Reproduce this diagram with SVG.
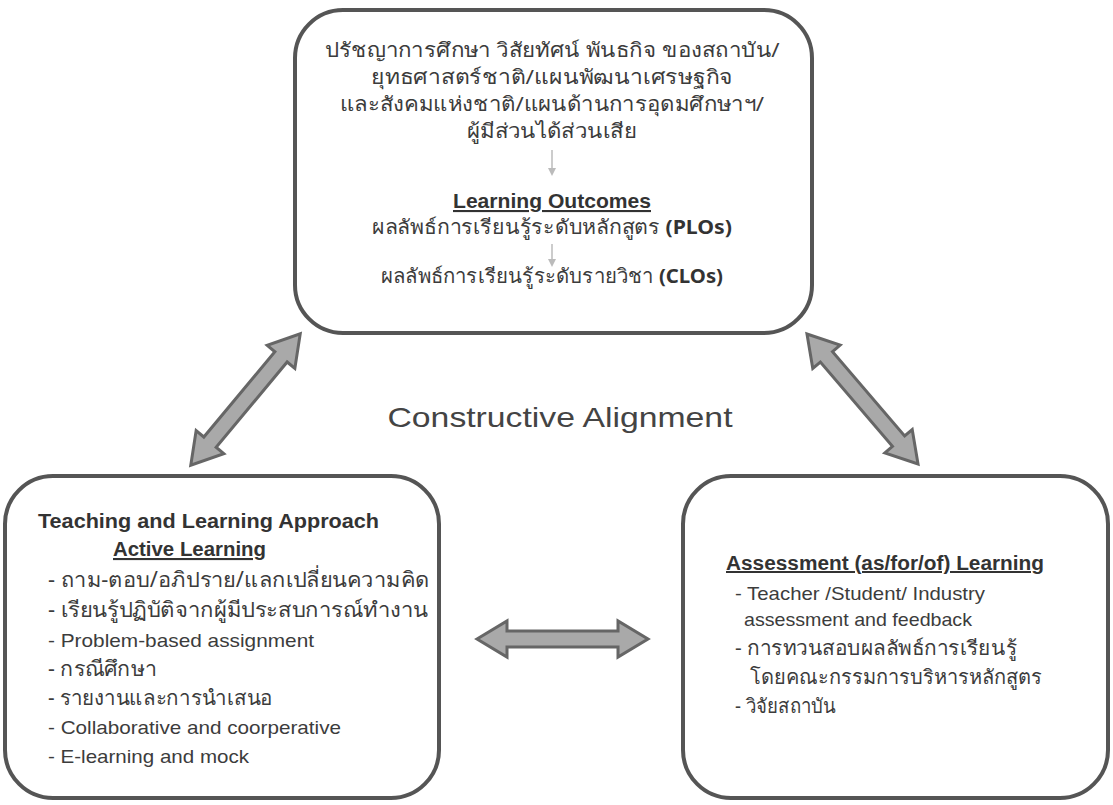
<svg xmlns="http://www.w3.org/2000/svg" width="1113" height="805" viewBox="0 0 1113 805">
<style>
.box{fill:#fff;stroke:#555;stroke-width:4}
.t{font-family:"Liberation Sans","Noto Sans",sans-serif;font-size:19px;fill:#3c3c3c}
.th{font-family:"Noto Sans","DejaVu Sans","Liberation Sans",sans-serif;font-size:20px;fill:#3c3c3c}
.b{font-weight:bold;fill:#333}
.c{text-anchor:middle}
.big{fill:#a9a9a9;stroke:#666;stroke-width:3;stroke-linejoin:miter}
.sm{stroke:#bbb;stroke-width:1.5;fill:none}
</style>
<defs>
<polygon id="dbl" points="-85.5,0 -55.5,-18 -55.5,-8 55.5,-8 55.5,-18 85.5,0 55.5,18 55.5,8 -55.5,8 -55.5,18"/>
<marker id="ah" markerWidth="8" markerHeight="8" refX="4" refY="4" orient="auto" markerUnits="userSpaceOnUse"><path d="M0,0 L8,4 L0,8 Z" fill="#bbb"/></marker>
</defs>
<rect width="1113" height="805" fill="#fff"/>

<g id="top">
<rect class="box" x="295" y="10" width="517" height="323" rx="48"/>
<text class="th c" x="552" y="57" textLength="455" lengthAdjust="spacingAndGlyphs">ปรัชญาการศึกษา วิสัยทัศน์ พันธกิจ ของสถาบัน/</text>
<text class="th c" x="552" y="84" textLength="362" lengthAdjust="spacingAndGlyphs">ยุทธศาสตร์ชาติ/แผนพัฒนาเศรษฐกิจ</text>
<text class="th c" x="552" y="111" textLength="424" lengthAdjust="spacingAndGlyphs">และสังคมแห่งชาติ/แผนด้านการอุดมศึกษาฯ/</text>
<text class="th c" x="552" y="138" textLength="170" lengthAdjust="spacingAndGlyphs">ผู้มีส่วนได้ส่วนเสีย</text>
<line class="sm" x1="552" y1="150" x2="552" y2="172" marker-end="url(#ah)"/>
<text class="t b c" x="552" y="208" style="font-size:21px" text-decoration="underline" textLength="198" lengthAdjust="spacingAndGlyphs">Learning Outcomes</text>
<text class="th c" x="552" y="234" textLength="360" lengthAdjust="spacingAndGlyphs">ผลลัพธ์การเรียนรู้ระดับหลักสูตร <tspan class="b">(PLOs)</tspan></text>
<line class="sm" x1="552" y1="244" x2="552" y2="263" marker-end="url(#ah)"/>
<text class="th c" x="552" y="283" textLength="342" lengthAdjust="spacingAndGlyphs">ผลลัพธ์การเรียนรู้ระดับรายวิชา <tspan class="b">(CLOs)</tspan></text>
</g>

<g id="teaching">
<rect class="box" x="5" y="476" width="434" height="322" rx="48"/>
<text class="t b" x="38" y="528" style="font-size:21px" textLength="341" lengthAdjust="spacingAndGlyphs">Teaching and Learning Approach</text>
<text class="t b" x="113" y="556" style="font-size:21px" text-decoration="underline" textLength="153" lengthAdjust="spacingAndGlyphs">Active Learning</text>
<text class="th" x="48" y="587" style="font-size:21px" textLength="382" lengthAdjust="spacingAndGlyphs">- ถาม-ตอบ/อภิปราย/แลกเปลี่ยนความคิด</text>
<text class="th" x="48" y="617" style="font-size:21px" textLength="380" lengthAdjust="spacingAndGlyphs">- เรียนรู้ปฏิบัติจากผู้มีประสบการณ์ทำงาน</text>
<text class="t" x="48" y="647" textLength="266" lengthAdjust="spacingAndGlyphs">- Problem-based assignment</text>
<text class="th" x="48" y="676" style="font-size:21px" textLength="109" lengthAdjust="spacingAndGlyphs">- กรณีศึกษา</text>
<text class="th" x="48" y="705" style="font-size:21px" textLength="225" lengthAdjust="spacingAndGlyphs">- รายงานและการนำเสนอ</text>
<text class="t" x="48" y="734" textLength="293" lengthAdjust="spacingAndGlyphs">- Collaborative and coorperative</text>
<text class="t" x="48" y="763" textLength="201" lengthAdjust="spacingAndGlyphs">- E-learning and mock</text>
</g>

<g id="assessment">
<rect class="box" x="683" y="476" width="425" height="322" rx="48"/>
<text class="t b" x="726" y="570" style="font-size:20px" text-decoration="underline" textLength="318" lengthAdjust="spacingAndGlyphs">Assessment (as/for/of) Learning</text>
<text class="t" x="735" y="600" textLength="250" lengthAdjust="spacingAndGlyphs">- Teacher /Student/ Industry</text>
<text class="t" x="744" y="626" textLength="228" lengthAdjust="spacingAndGlyphs">assessment and feedback</text>
<text class="th" x="735" y="655" textLength="282" lengthAdjust="spacingAndGlyphs">- การทวนสอบผลลัพธ์การเรียนรู้</text>
<text class="th" x="750" y="684" textLength="292" lengthAdjust="spacingAndGlyphs">โดยคณะกรรมการบริหารหลักสูตร</text>
<text class="th" x="735" y="713" textLength="101" lengthAdjust="spacingAndGlyphs">- วิจัยสถาบัน</text>
</g>

<g id="label">
<text x="560" y="427" text-anchor="middle" style="font-family:'Liberation Sans','Open Sans',sans-serif;font-size:28px;fill:#444" textLength="345" lengthAdjust="spacingAndGlyphs">Constructive Alignment</text>
</g>

<g id="connectors">
<use href="#dbl" class="big" transform="translate(245.5,399.5) rotate(-50.2)"/>
<use href="#dbl" class="big" transform="translate(862.5,399) rotate(49.5)"/>
<use href="#dbl" class="big" transform="translate(562.5,639)"/>
</g>
</svg>
